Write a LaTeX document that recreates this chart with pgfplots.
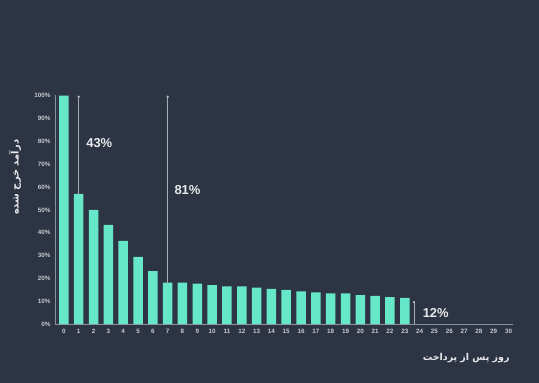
\documentclass[border=0pt]{standalone}
\usepackage{pgfplots}
\pgfplotsset{compat=1.18}
\usepackage{fontspec}
\setmainfont{Liberation Sans}
\newfontfamily\arabicfont[Script=Arabic]{DejaVu Sans}
\TeXXeTstate=1
\definecolor{bg}{HTML}{2D3443}
\definecolor{barc}{HTML}{66E8C8}
\definecolor{axcol}{HTML}{8C919B}
\definecolor{tickcol}{HTML}{C9CBD0}
\definecolor{anncol}{HTML}{E8E9EC}
\definecolor{linec}{HTML}{A9AEB5}
\begin{document}
\begin{tikzpicture}
\fill[bg] (-55bp,-59bp) rectangle (484bp,324bp);
\useasboundingbox (-55bp,-59bp) rectangle (484bp,324bp);
\begin{axis}[
  at={(0,0)}, anchor=south west,
  scale only axis, width=458bp, height=229bp,
  xmin=-0.6, xmax=30.3, ymin=0, ymax=100.3,
  axis lines*=left,
  axis line style={axcol, line width=0.8bp},
  major tick length=0pt,
  xtick={0,...,30}, ytick={0,10,...,100},
  yticklabel={\pgfmathprintnumber{\tick}\%},
  /pgf/number format/assume math mode=true,
  tick label style={font=\bfseries\fontsize{6.3}{7}\selectfont, text=tickcol},
  xticklabel style={yshift=-2bp},
  yticklabel style={xshift=-1bp},
  ylabel={\arabicfont\bfseries\beginR درآمد خرج شده\endR},
  ylabel style={at={(axis description cs:-0.0873,0.64)}, anchor=center, font=\fontsize{10}{12}\selectfont, text=anncol},
  xlabel={\arabicfont\bfseries\beginR روز پس از پرداخت\endR},
  xlabel style={at={(axis description cs:1,0)}, anchor=east, yshift=-34bp, font=\fontsize{9.5}{12}\selectfont, text=anncol},
  clip=false,
]
\addplot[ybar, bar width=9.5bp, bar shift=0pt, fill=barc, draw=none] coordinates {
(0,100)(1,57)(2,50)(3,43.4)(4,36.4)(5,29.4)(6,23.2)(7,18.1)(8,18.1)(9,17.7)
(10,17)(11,16.5)(12,16.5)(13,15.9)(14,15.4)(15,14.9)(16,14.3)(17,13.9)(18,13.4)
(19,13.4)(20,12.7)(21,12.3)(22,11.8)(23,11.4)};
\addplot[linec, line width=0.6bp, mark=*, mark size=0.9bp, mark indices={2}, mark options={fill=anncol, draw=none}] coordinates {(1,57)(1,99.5)};
\addplot[linec, line width=0.6bp, mark=*, mark size=0.9bp, mark indices={2}, mark options={fill=anncol, draw=none}] coordinates {(7,18.1)(7,99.5)};
\addplot[linec, line width=0.6bp, mark=*, mark size=0.9bp, mark indices={2}, mark options={fill=anncol, draw=none}] coordinates {(23.62,0)(23.62,9.6)};
\node[anchor=west, text=anncol, font=\bfseries\fontsize{13}{15}\selectfont, inner sep=0pt] at (axis cs:1.5,79.4) {43\%};
\node[anchor=west, text=anncol, font=\bfseries\fontsize{13}{15}\selectfont, inner sep=0pt] at (axis cs:7.45,58.8) {81\%};
\node[anchor=west, text=anncol, font=\bfseries\fontsize{13}{15}\selectfont, inner sep=0pt] at (axis cs:24.2,5.0) {12\%};
\end{axis}
\end{tikzpicture}
\end{document}
